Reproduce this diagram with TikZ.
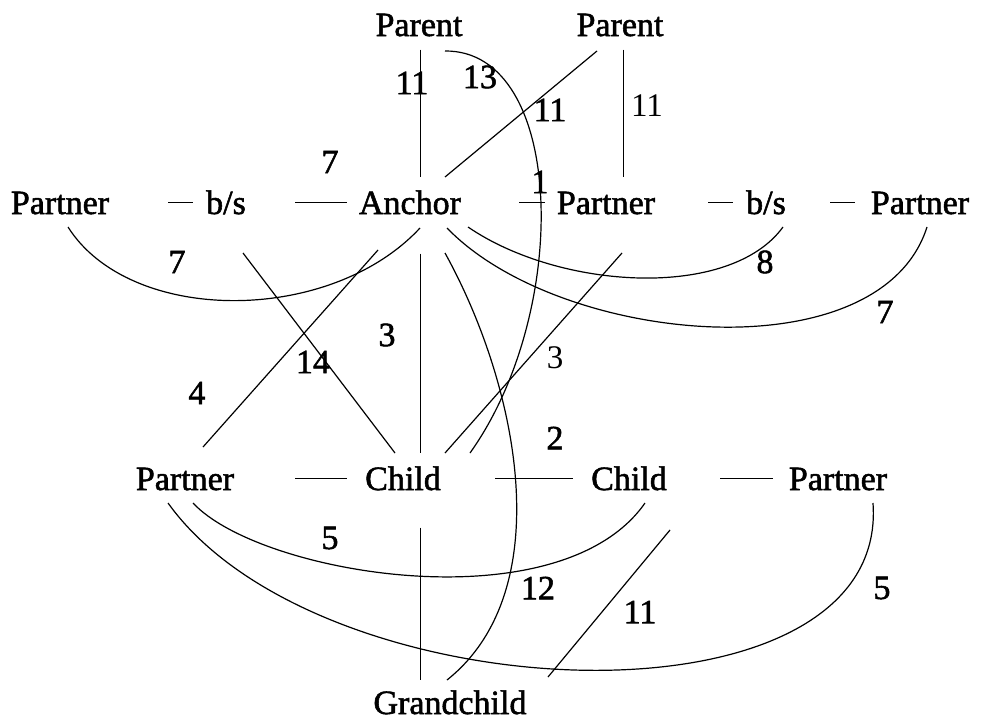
\documentclass[tikz,border=0pt]{standalone}
\usepackage{fontspec}
\setmainfont{Liberation Serif}
\newfontfamily\heavyfont{Liberation Serif}[FakeBold=1.6]
\begin{document}
\begin{tikzpicture}[x=1pt,y=-1pt,line width=1.2pt,
  nd/.style={font=\heavyfont\fontsize{34}{40}\selectfont, anchor=base, text height=23pt, text depth=0pt, inner xsep=0pt, inner ysep=13pt},
  lbl/.style={font=\heavyfont\fontsize{34}{40}\selectfont, inner sep=0pt},
  lbllight/.style={font=\fontsize{33}{40}\selectfont, inner sep=0pt},
  thin/.style={line width=0.8pt}]
\useasboundingbox (0,0) rectangle (997,720);
% nodes
\node[nd] (Parent1) at (419,36) {Parent};
\node[nd] (Parent2) at (620,36) {Parent};
\node[nd] (PartnerL) at (60,214) {Partner};
\node[nd] (bsL) at (226,214) {b/s};
\node[nd] (Anchor) at (410,214) {Anchor};
\node[nd] (PartnerM) at (606,214) {Partner};
\node[nd] (bsR) at (766,214) {b/s};
\node[nd] (PartnerR) at (920,214) {Partner};
\node[nd] (PartnerBL) at (185,490) {Partner};
\node[nd] (Child1) at (403,490) {Child};
\node[nd] (Child2) at (629,490) {Child};
\node[nd] (PartnerBR) at (838,490) {Partner};
\node[nd] (Grandchild) at (450,714) {Grandchild};
% horizontal short connectors
\draw[thin, shorten <=108pt, shorten >=33pt] (PartnerL.center) -- (bsL.center);
\draw[thin, shorten <=69pt, shorten >=63pt] (bsL.center) -- (Anchor.center);
\draw[thin, shorten <=109pt, shorten >=61pt] (Anchor.center) -- (PartnerM.center);
\draw[thin, shorten <=102pt, shorten >=33pt] (PartnerM.center) -- (bsR.center);
\draw[thin, shorten <=64pt, shorten >=65pt] (bsR.center) -- (PartnerR.center);
\draw[thin, shorten <=110pt, shorten >=56pt] (PartnerBL.center) -- (Child1.center);
\draw[thin, shorten <=92pt, shorten >=56pt] (Child1.center) -- (Child2.center);
\draw[thin, shorten <=91pt, shorten >=65pt] (Child2.center) -- (PartnerBR.center);
% vertical connectors
\draw[thin] ([shift={(1,0)}]Parent1.south) -- ([shift={(10,0)}]Anchor.north);
\draw[thin] ([shift={(3,0)}]Parent2.south) -- ([shift={(17,0)}]PartnerM.north);
\draw[thin] ([shift={(10,26)}]Anchor.south) -- ([shift={(17,0)}]Child1.north);
\draw[thin] ([shift={(17,24)}]Child1.south) -- ([shift={(-30,3)}]Grandchild.north);
% straight diagonals
\draw ([shift={(-23,26.5)}]Parent2.center) -- ([shift={(35,-25.5)}]Anchor.center);
\draw ([shift={(17,50.5)}]bsL.center) -- ([shift={(-8,-25.5)}]Child1.center);
\draw ([shift={(-32,47.5)}]Anchor.center) -- ([shift={(18,-31.5)}]PartnerBL.center);
\draw ([shift={(16,50.5)}]PartnerM.center) -- ([shift={(42,-25.5)}]Child1.center);
\draw ([shift={(41,51.5)}]Child2.center) -- ([shift={(98,-25.5)}]Grandchild.center);
% curves
\draw ([shift={(8,24.5)}]PartnerL.center) .. controls (130,325) and (330,325) .. ([shift={(10,25.5)}]Anchor.center);
\draw ([shift={(35,50.5)}]Anchor.center) .. controls (518,385) and (560,590) .. ([shift={(-3,-22.5)}]Grandchild.center);
\draw ([shift={(26,26.5)}]Parent1.center) .. controls (565,50) and (572,310) .. ([shift={(67,-25.5)}]Child1.center);
\draw ([shift={(58,24.5)}]Anchor.center) .. controls (560,290) and (730,300) .. ([shift={(17,24.5)}]bsR.center);
\draw ([shift={(37,25.5)}]Anchor.center) .. controls (560,345) and (880,375) .. ([shift={(7,24.5)}]PartnerR.center);
\draw ([shift={(8,24.5)}]PartnerBL.center) .. controls (260,575) and (560,625) .. ([shift={(16,24.5)}]Child2.center);
\draw ([shift={(-17,24.5)}]PartnerBL.center) .. controls (320,715) and (890,737) .. ([shift={(35,24.5)}]PartnerBR.center);
% labels
\node[lbl] (l1) at (412,83) {11};
\node[lbl] (l2) at (480,77) {13};
\node[lbl] (l3) at (550,110) {11};
\node[lbllight] (l4) at (647,106) {11};
\node[lbl] (l5) at (330,162) {7};
\node[lbl] (l6) at (540,182) {1};
\node[lbl] (l7) at (177,262) {7};
\node[lbl] (l8) at (765,262) {8};
\node[lbl] (l9) at (885,312) {7};
\node[lbl] (l10) at (387,335) {3};
\node[lbl] (l11) at (313,362) {14};
\node[lbl] (l12) at (197,393) {4};
\node[lbllight] (l13) at (555,358) {3};
\node[lbl] (l14) at (555,438) {2};
\node[lbl] (l15) at (330,538) {5};
\node[lbl] (l16) at (538,588) {12};
\node[lbl] (l17) at (640,612) {11};
\node[lbl] (l18) at (882,588) {5};
\end{tikzpicture}
\end{document}
